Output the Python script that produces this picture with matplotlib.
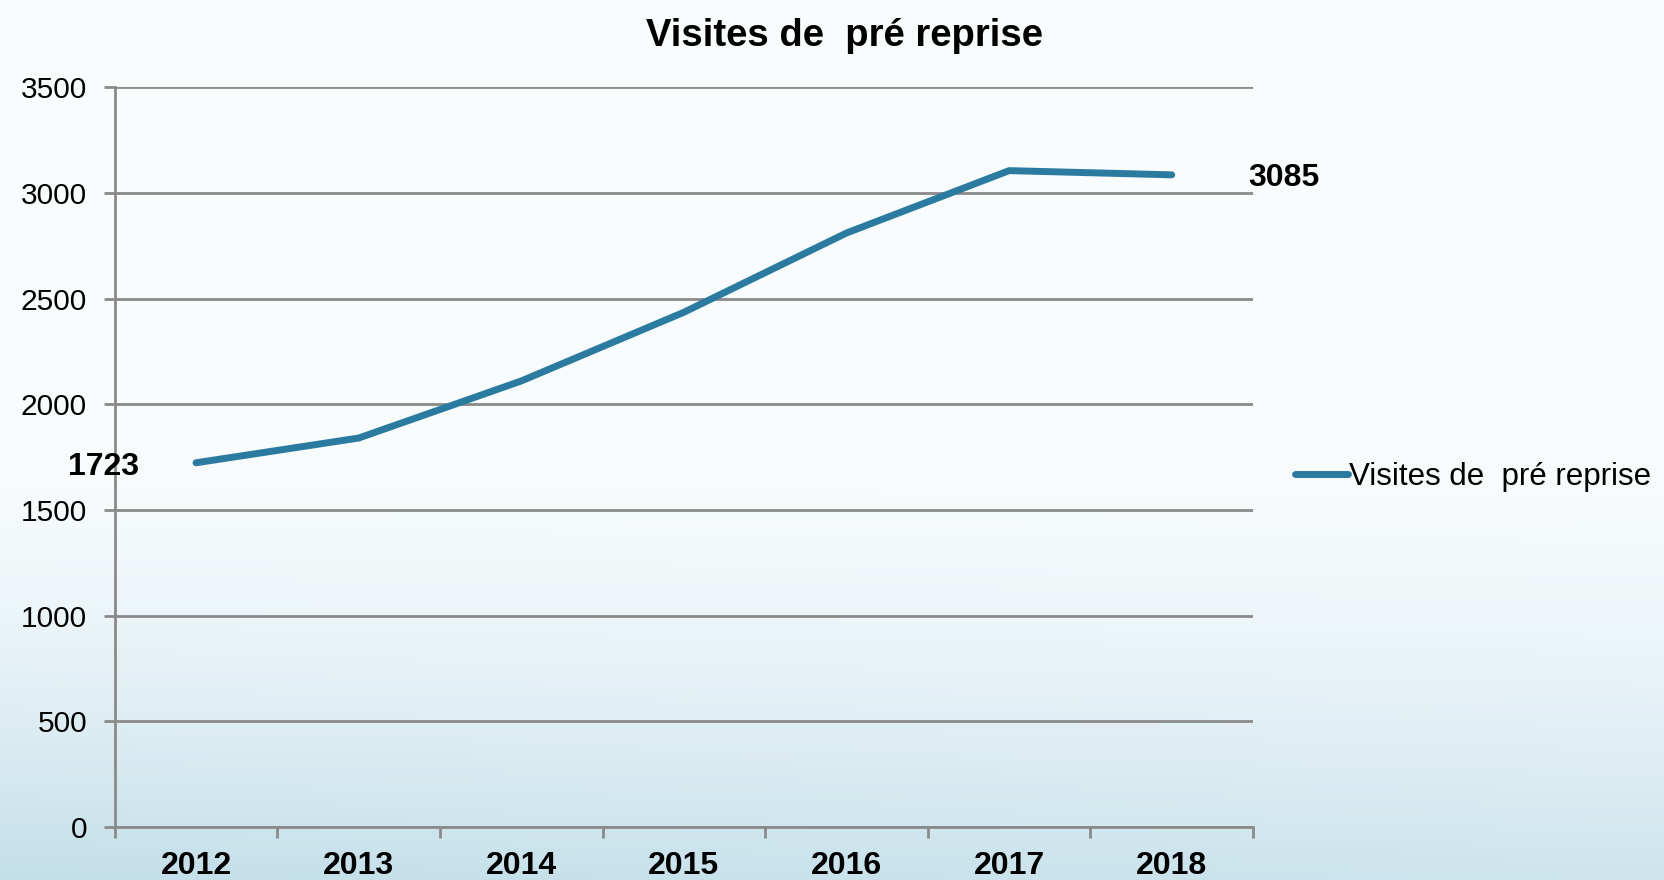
import numpy as np
import matplotlib.pyplot as plt
from matplotlib.colors import LinearSegmentedColormap

years = ["2012", "2013", "2014", "2015", "2016", "2017", "2018"]
visites = [1723, 1840, 2110, 2435, 2810, 3105, 3085]
serie = "Visites de  pré reprise"
y_ticks = [0, 500, 1000, 1500, 2000, 2500, 3000, 3500]

plt.rcParams['font.family'] = ['Liberation Sans', 'DejaVu Sans']

fig = plt.figure(figsize=(16.65, 8.8), dpi=100)

# light background gradient (white at top, pale blue at bottom)
bg = fig.add_axes([0, 0, 1, 1], zorder=-10)
yy = np.linspace(0, 1, 200)[:, None]
xx = np.linspace(0, 1, 300)[None, :]
grad = np.clip((yy - 0.5) / 0.5, 0, 1) ** 1.5 * (1 - 0.2 * xx)
cmap = LinearSegmentedColormap.from_list("bg", ["#f9fcfd", "#c3dfe9"])
bg.imshow(grad, cmap=cmap, aspect="auto", extent=[0, 1, 0, 1], vmin=0, vmax=1)
bg.axis("off")

ax = fig.add_axes([0.0689, 0.0602, 0.6837, 0.8408])
ax.set_facecolor("none")
x = np.arange(len(years))
line, = ax.plot(x, visites, color="#2B7BA1", lw=5, solid_capstyle="round",
                solid_joinstyle="round", label=serie)

ax.set_xlim(-0.5, len(years) - 0.5)
ax.set_ylim(0, 3500)
ax.set_yticks(y_ticks)
ax.set_yticklabels([str(v) for v in y_ticks], fontsize=21.5)
ax.set_xticks(x)
ax.set_xticklabels(years, fontsize=23, fontweight="bold")
ax.set_xticks(np.arange(-0.5, len(years)), minor=True)
ax.tick_params(axis="x", which="major", length=0, pad=17)
ax.tick_params(axis="x", which="minor", length=8, width=2, color="#8a8a8a")
ax.tick_params(axis="y", length=8, width=2, color="#8a8a8a", pad=12)

ax.grid(axis="y", color="#8a8a8a", lw=2)
ax.set_axisbelow(True)
for s in ["top", "right"]:
    ax.spines[s].set_visible(False)
for s in ["left", "bottom"]:
    ax.spines[s].set_color("#8a8a8a")
    ax.spines[s].set_linewidth(2)

ax.annotate(str(visites[0]), (x[0], visites[0]), xytext=(-41, -3),
            textcoords="offset points", ha="right", va="center",
            fontsize=23, fontweight="bold", annotation_clip=False)
ax.annotate(str(visites[-1]), (x[-1], visites[-1]), xytext=(55, -2.5),
            textcoords="offset points", ha="left", va="center",
            fontsize=23, fontweight="bold", annotation_clip=False)

fig.suptitle("Visites de  pré reprise", x=0.507, y=0.979, fontsize=27.5, fontweight="bold")

fig.legend(handles=[line], loc="center left", bbox_to_anchor=(0.770, 0.458),
           frameon=False, fontsize=22.5, handlelength=1.7, handletextpad=0.05,
           borderaxespad=0)

fig.savefig("out.png", dpi=100)
